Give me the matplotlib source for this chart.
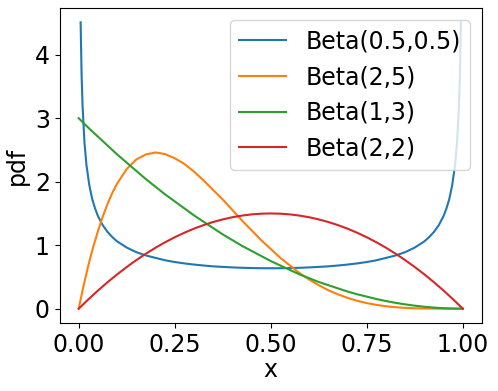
import matplotlib
matplotlib.use("Agg")
import matplotlib.pyplot as plt

# values
x_u = [0.005, 0.0075, 0.01, 0.015, 0.02, 0.0275, 0.035, 0.0425, 0.05, 0.0625, 0.075, 0.0875, 0.1,
       0.125, 0.15, 0.175, 0.2, 0.225, 0.25, 0.275, 0.3, 0.325, 0.35, 0.375, 0.4, 0.425, 0.45, 0.475, 0.5,
       0.525, 0.55, 0.575, 0.6, 0.625, 0.65, 0.675, 0.7, 0.725, 0.75, 0.775, 0.8, 0.825, 0.85, 0.875,
       0.9, 0.9125, 0.925, 0.9375, 0.95, 0.9575, 0.965, 0.9725, 0.98, 0.985, 0.99, 0.9925, 0.995]
beta_05_05 = [4.51, 3.69, 3.20, 2.62, 2.27, 1.95, 1.73, 1.58, 1.46, 1.315, 1.21, 1.127, 1.06,
              0.963, 0.89, 0.838, 0.80, 0.762, 0.735, 0.713, 0.695, 0.680, 0.667, 0.658, 0.650, 0.644, 0.640, 0.637, 0.637,
              0.637, 0.640, 0.644, 0.650, 0.658, 0.667, 0.680, 0.695, 0.713, 0.735, 0.762, 0.80, 0.838, 0.89, 0.963,
              1.06, 1.127, 1.21, 1.315, 1.46, 1.58, 1.73, 1.95, 2.27, 2.62, 3.20, 3.69, 4.51]

x_skew = [0.0, 0.0125, 0.025, 0.0375, 0.05, 0.0625, 0.075, 0.0875, 0.1, 0.125, 0.15, 0.175, 0.2, 0.225,
          0.25, 0.275, 0.3, 0.325, 0.35, 0.375, 0.4, 0.425, 0.45, 0.475, 0.5, 0.525, 0.55, 0.575, 0.6,
          0.625, 0.65, 0.675, 0.7, 0.725, 0.75, 0.775, 0.8, 0.825, 0.85, 0.875, 0.9, 0.925, 0.95, 1.0]
beta_2_5 = [0.0, 0.357, 0.68, 0.965, 1.22, 1.448, 1.65, 1.823, 1.97, 2.20, 2.35, 2.43, 2.46, 2.435,
            2.37, 2.28, 2.16, 2.02, 1.87, 1.72, 1.555, 1.39, 1.235, 1.08, 0.94, 0.80, 0.68, 0.56, 0.46,
            0.37, 0.29, 0.226, 0.17, 0.124, 0.088, 0.06, 0.038, 0.023, 0.013, 0.006, 0.003, 0.001, 0.0002, 0.0]

x_even = [0.0, 0.025, 0.05, 0.075, 0.1, 0.125, 0.15, 0.175, 0.2, 0.225, 0.25, 0.275, 0.3, 0.325, 0.35,
          0.375, 0.4, 0.425, 0.45, 0.475, 0.5, 0.525, 0.55, 0.575, 0.6, 0.625, 0.65, 0.675, 0.7, 0.725,
          0.75, 0.775, 0.8, 0.825, 0.85, 0.875, 0.9, 0.925, 0.95, 0.975, 1.0]
beta_1_3 = [3.0, 2.85, 2.71, 2.57, 2.43, 2.30, 2.17, 2.04, 1.92, 1.80, 1.69, 1.58, 1.47, 1.37, 1.27,
            1.17, 1.08, 0.99, 0.91, 0.83, 0.75, 0.68, 0.61, 0.54, 0.48, 0.42, 0.37, 0.32, 0.27, 0.227,
            0.19, 0.152, 0.12, 0.092, 0.068, 0.047, 0.03, 0.017, 0.0075, 0.002, 0.0]
beta_2_2 = [0.0, 0.146, 0.285, 0.416, 0.54, 0.656, 0.765, 0.866, 0.96, 1.046, 1.125, 1.196, 1.26, 1.316, 1.365,
            1.406, 1.44, 1.466, 1.485, 1.496, 1.5, 1.496, 1.485, 1.466, 1.44, 1.406, 1.365, 1.316, 1.26, 1.196,
            1.125, 1.046, 0.96, 0.866, 0.765, 0.656, 0.54, 0.416, 0.285, 0.146, 0.0]

labels = ["Beta(0.5,0.5)", "Beta(2,5)", "Beta(1,3)", "Beta(2,2)"]
fs = 17

fig = plt.figure(figsize=(4.98, 3.91), dpi=100)
ax = fig.add_axes([59.5 / 498, 1 - 323 / 391, (482 - 59.5) / 498, (323 - 8) / 391])

ax.plot(x_u, beta_05_05, label=labels[0])
ax.plot(x_skew, beta_2_5, label=labels[1])
ax.plot(x_even, beta_1_3, label=labels[2])
ax.plot(x_even, beta_2_2, label=labels[3])

ax.set_xticks([0, 0.25, 0.5, 0.75, 1.0])
ax.set_yticks([0, 1, 2, 3, 4])
ax.tick_params(labelsize=fs)
ax.set_xlabel("x", fontsize=fs, labelpad=1)
ax.set_ylabel("pdf", fontsize=fs)
ax.legend(loc="upper right", fontsize=fs)

fig.savefig("out.png", dpi=100)
